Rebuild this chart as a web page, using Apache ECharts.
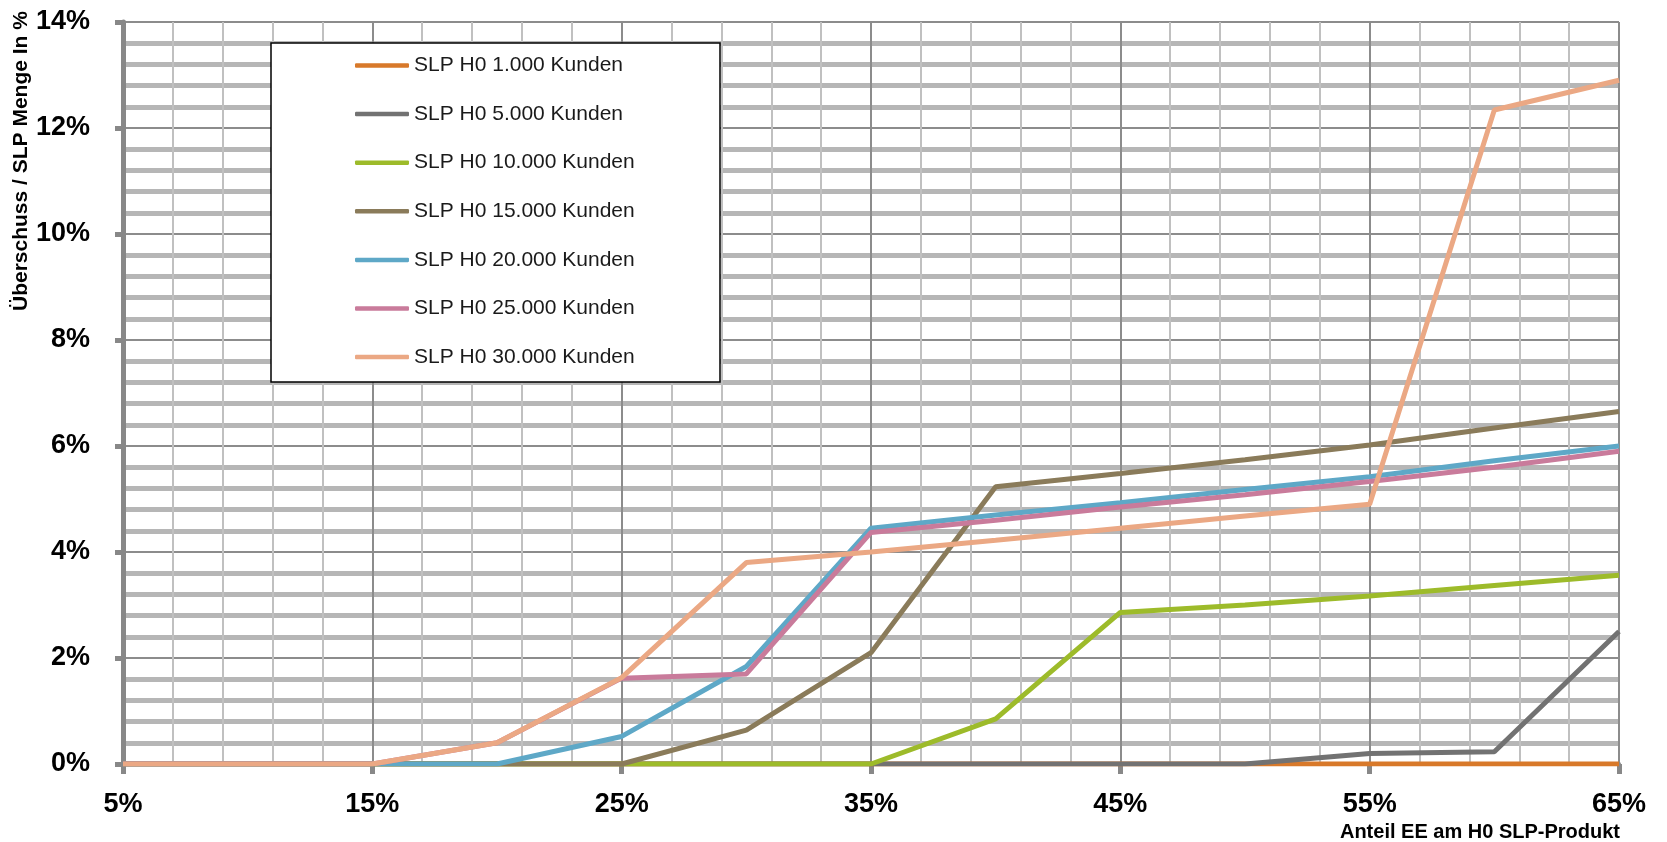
<!DOCTYPE html>
<html>
<head>
<meta charset="utf-8">
<script src="https://cdn.jsdelivr.net/npm/echarts@6/dist/echarts.min.js"></script>
<style>
html,body{margin:0;padding:0;background:#fff;}
#chart{width:1667px;height:842px;}
</style>
</head>
<body>
<div id="chart"></div>
<script>
// Anteil EE am H0 SLP-Produkt (%)
const shares = [5, 10, 15, 20, 25, 30, 35, 40, 45, 50, 55, 60, 65];
const seriesNames = [
  'SLP H0 1.000 Kunden',
  'SLP H0 5.000 Kunden',
  'SLP H0 10.000 Kunden',
  'SLP H0 15.000 Kunden',
  'SLP H0 20.000 Kunden',
  'SLP H0 25.000 Kunden',
  'SLP H0 30.000 Kunden'
];
const k1000  = [0, 0, 0, 0, 0, 0, 0, 0, 0, 0, 0, 0, 0];
const k5000  = [0, 0, 0, 0, 0, 0, 0, 0, 0, 0, 0.2, 0.23, 2.5];
const k10000 = [0, 0, 0, 0, 0, 0, 0, 0.85, 2.86, 3.0, 3.17, 3.37, 3.56];
const k15000 = [0, 0, 0, 0, 0, 0.64, 2.1, 5.23, 5.48, 5.74, 6.02, 6.34, 6.65];
const k20000 = [0, 0, 0, 0, 0.52, 1.84, 4.45, 4.7, 4.93, 5.18, 5.42, 5.72, 6.0];
const k25000 = [0, 0, 0, 0.4, 1.62, 1.7, 4.37, 4.6, 4.85, 5.08, 5.33, 5.6, 5.9];
const k30000 = [0, 0, 0, 0.4, 1.63, 3.8, 4.0, 4.22, 4.45, 4.68, 4.9, 12.34, 12.9];
const yTickLabels = ['0%', '2%', '4%', '6%', '8%', '10%', '12%', '14%'];
const xTickLabels = ['5%', '15%', '25%', '35%', '45%', '55%', '65%'];
const yTitle = 'Überschuss / SLP Menge In %';
const xTitle = 'Anteil EE am H0 SLP-Produkt';

const allValues = [k1000, k5000, k10000, k15000, k20000, k25000, k30000];
const colors = ['#D8792A', '#727272', '#9DBB2A', '#8A7B5A', '#5EA8C7', '#C97B9B', '#EBA884'];

const chart = echarts.init(document.getElementById('chart'));
const series = seriesNames.map((name, i) => ({
  name: name,
  type: 'line',
  data: shares.map((x, j) => [x, allValues[i][j]]),
  symbol: 'none',
  smooth: false,
  lineStyle: { width: 5, color: colors[i] },
  itemStyle: { color: colors[i] },
  z: 2 + i * 0.01
}));

const tickFont = { fontFamily: 'Liberation Sans', fontWeight: 'bold', fontSize: 27, color: '#000' };

chart.setOption({
  animation: false,
  backgroundColor: '#ffffff',
  grid: { left: 123, right: 48, top: 22, bottom: 78, containLabel: false },
  xAxis: {
    type: 'value',
    min: 5, max: 65, interval: 10,
    axisLine: { show: true, onZero: false, lineStyle: { color: '#888888', width: 4 } },
    axisTick: { show: true, length: 10, lineStyle: { color: '#888888', width: 5 } },
    axisLabel: Object.assign({
      margin: 27,
      formatter: (v) => xTickLabels[Math.round((v - 5) / 10)] || ''
    }, tickFont),
    splitLine: { show: true, lineStyle: { color: '#8c8c8c', width: 2 } },
    minorTick: { show: false, splitNumber: 5 },
    minorSplitLine: { show: true, lineStyle: { color: '#c0c0c0', width: 2 } }
  },
  yAxis: {
    type: 'value',
    min: 0, max: 14, interval: 2,
    axisLine: { show: true, lineStyle: { color: '#888888', width: 5 } },
    axisTick: { show: true, length: 8, lineStyle: { color: '#888888', width: 5 } },
    axisLabel: Object.assign({
      margin: 33,
      formatter: (v) => yTickLabels[Math.round(v / 2)] || ''
    }, tickFont),
    splitLine: { show: true, lineStyle: { color: '#8c8c8c', width: 2 } },
    minorTick: { show: false, splitNumber: 5 },
    minorSplitLine: { show: true, lineStyle: { color: '#b6b6b6', width: 5 } }
  },
  legend: {
    orient: 'vertical',
    left: 355, top: 55,
    padding: 0,
    icon: 'roundRect',
    itemWidth: 54, itemHeight: 4.5,
    itemGap: 27.6,
    itemStyle: { borderWidth: 0 },
    textStyle: { fontFamily: 'Liberation Sans', fontSize: 21, color: '#1a1a1a', lineHeight: 20 },
    data: seriesNames,
    z: 5
  },
  graphic: [
    {
      type: 'rect', z: 4,
      shape: { x: 271, y: 43, width: 449, height: 339 },
      style: { fill: '#ffffff', stroke: '#000000', lineWidth: 1.5 }
    },
    {
      type: 'text', z: 5,
      x: 21, y: 311, rotation: Math.PI / 2,
      style: { text: yTitle, fontFamily: 'Liberation Sans', fontWeight: 'bold', fontSize: 21, fill: '#000', align: 'left', verticalAlign: 'middle' }
    },
    {
      type: 'text', z: 5,
      x: 1620, y: 832,
      style: { text: xTitle, fontFamily: 'Liberation Sans', fontWeight: 'bold', fontSize: 20, fill: '#000', align: 'right', verticalAlign: 'middle' }
    }
  ],
  series: series
});
</script>
</body>
</html>
